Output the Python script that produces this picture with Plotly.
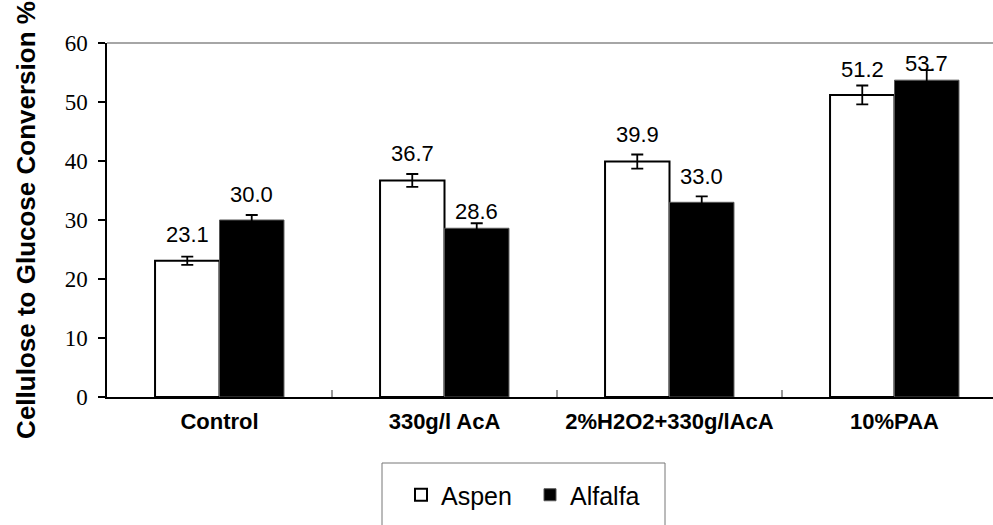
import plotly.graph_objects as go

# Treatments and glucose conversion results (%)
categories = ["Control", "330g/l AcA", "2%H2O2+330g/lAcA", "10%PAA"]
aspen = [23.1, 36.7, 39.9, 51.2]
aspen_err = [0.7, 1.1, 1.2, 1.6]
alfalfa = [30.0, 28.6, 33.0, 53.7]
alfalfa_err = [0.85, 0.85, 1.0, 1.7]

y_ticks = [0, 10, 20, 30, 40, 50, 60]

# gap (px) between bar top and the bottom of its value label
aspen_label_gap = [17, 17, 18, 16]
alfalfa_label_gap = [16, 7, 16, 7]

W, H = 993, 525
ML, MR, MT, MB = 107, 0, 43, 128
plot_w = W - ML - MR
plot_h = H - MT - MB
cat_px = 225.0                      # width of one category slot
x_hi = -0.5 + plot_w / cat_px
bargap = 0.427
bar_px = (1 - bargap) / 2 * cat_px

fig = go.Figure()
fig.add_trace(go.Bar(
    name="Aspen", x=categories, y=aspen,
    marker=dict(color="white", line=dict(color="black", width=2)),
    error_y=dict(type="data", array=aspen_err, color="black", thickness=1.8, width=6),
))
fig.add_trace(go.Bar(
    name="Alfalfa", x=categories, y=alfalfa,
    marker=dict(color="black", line=dict(color="#555555", width=1)),
    error_y=dict(type="data", array=alfalfa_err, color="black", thickness=1.8, width=6),
))

label_font = dict(family="Liberation Sans, Arial", size=22, color="black")
for series, gaps, shift in ((aspen, aspen_label_gap, -bar_px / 2),
                            (alfalfa, alfalfa_label_gap, bar_px / 2)):
    for cat, v, g in zip(categories, series, gaps):
        fig.add_annotation(
            x=cat, y=v, text=f"{v:.1f}", showarrow=False,
            xanchor="center", yanchor="bottom", xshift=shift, yshift=g - 5,
            font=label_font,
        )

# plot-area top border
fig.add_shape(type="line", xref="paper", yref="paper", x0=0, x1=1, y0=1, y1=1,
              line=dict(color="#888888", width=1.5))

# legend frame
def px_x(p):
    return (p - ML) / plot_w

def px_y(p):
    return (MT + plot_h - p) / plot_h

fig.add_shape(type="rect", xref="paper", yref="paper",
              x0=px_x(382), x1=px_x(665), y0=px_y(463), y1=px_y(560),
              line=dict(color="#777777", width=1), fillcolor="rgba(0,0,0,0)")

fig.update_layout(
    width=W, height=H,
    margin=dict(l=ML, r=MR, t=MT, b=MB, autoexpand=False),
    paper_bgcolor="white", plot_bgcolor="white",
    barmode="group", bargap=bargap, bargroupgap=0,
    showlegend=True,
    legend=dict(
        orientation="h", x=px_x(401), xanchor="left",
        y=px_y(495), yanchor="middle",
        bgcolor="rgba(0,0,0,0)", borderwidth=0,
        font=dict(family="Liberation Sans, Arial", size=25, color="black"),
        entrywidth=84, itemwidth=30,
    ),
    xaxis=dict(
        range=[-0.5, x_hi], type="category",
        showline=True, linecolor="black", linewidth=1.5,
        ticks="inside", tickson="boundaries", ticklen=7, tickcolor="#999999", tickwidth=1.5,
        tickfont=dict(family="Liberation Sans, Arial", size=22, color="black", weight="bold"),
        ticklabelstandoff=4,
        showgrid=False, zeroline=False,
    ),
    yaxis=dict(
        range=[0, 60], tickvals=y_ticks,
        showline=True, linecolor="black", linewidth=1.5,
        ticks="outside", ticklen=7, tickcolor="black", tickwidth=1.5,
        tickfont=dict(family="Liberation Serif, Times New Roman", size=23, color="black"),
        ticklabelstandoff=6,
        showgrid=False, zeroline=False,
        title=dict(text="Cellulose to Glucose Conversion %", standoff=22,
                   font=dict(family="Liberation Sans, Arial", size=26, color="black", weight="bold")),
    ),
)

fig.write_html("out.html")
